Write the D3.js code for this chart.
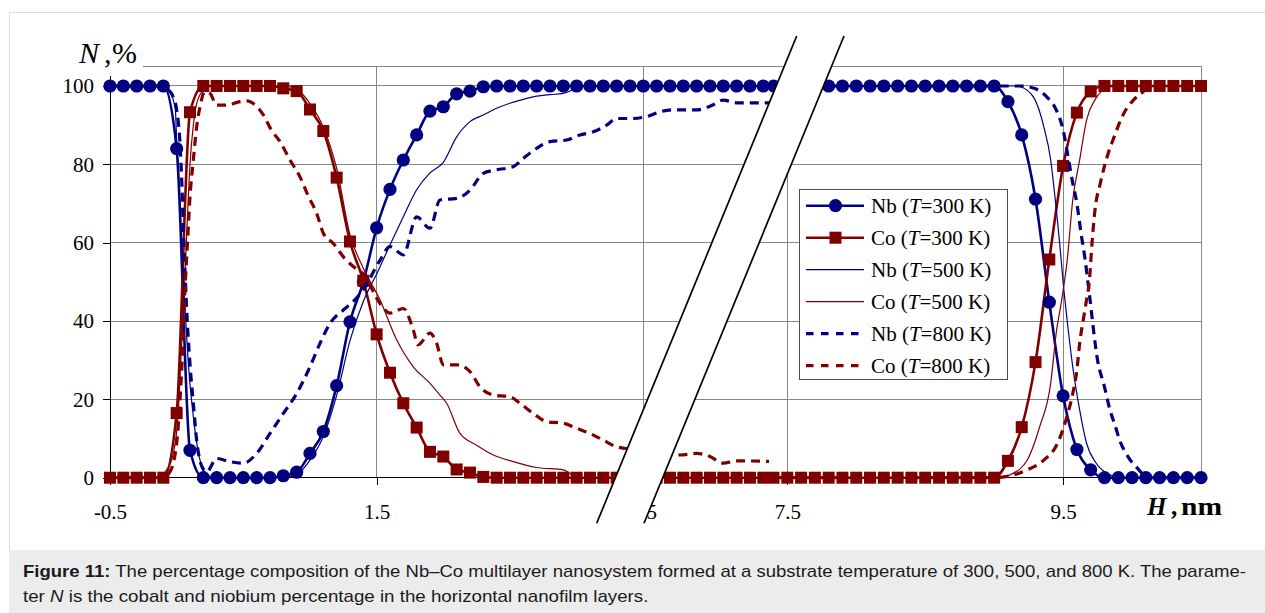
<!DOCTYPE html>
<html><head><meta charset="utf-8">
<script src="https://cdn.jsdelivr.net/npm/d3@7"></script>
<style>body{margin:0;background:#fff}svg{display:block}</style>
</head><body>
<svg id="c" width="1265" height="613"></svg>
<script>
// ---------------- DATA ----------------
const yTicks = [0, 20, 40, 60, 80, 100];
const xTicksLeft = [-0.5, 1.5, 3.5];
const xTicksRight = [7.5, 9.5];

// T = 300 K (markers every 0.1 nm)
const H300L = [-0.5,-0.4,-0.3,-0.2,-0.1,0,0.1,0.2,0.3,0.4,0.5,0.6,0.7,0.8,0.9,1,1.1,1.2,1.3,1.4,1.5,1.6,1.7,1.8,1.9,2,2.1,2.2,2.3,2.4,2.5,2.6,2.7,2.8,2.9,3,3.1,3.2,3.3,3.4,3.5,3.6,3.7,3.8,3.9,4,4.1,4.2,4.3,4.4];
const Nb300L = [100,100,100,100,100,84,7,0,0,0,0,0,0,0.5,1.4,6.2,11.8,23.5,39.8,50,63.8,73.6,81.1,87.5,93.6,94.7,98,98.7,99.8,100,100,100,100,100,100,100,100,100,100,100,100,100,100,100,100,100,100,100,100,100];
const Co300L = [0,0,0,0,0,16.5,93.3,100,100,100,100,100,100,99.4,98.7,94,88.5,76.6,60.3,50.3,36.6,26.8,19,12.8,6.6,5.4,2.1,1.3,0.2,0,0,0,0,0,0,0,0,0,0,0,0,0,0,0,0,0,0,0,0,0];
const H300R = [7.4,7.5,7.6,7.7,7.8,7.9,8,8.1,8.2,8.3,8.4,8.5,8.6,8.7,8.8,8.9,9,9.1,9.2,9.3,9.4,9.5,9.6,9.7,9.8,9.9,10,10.1,10.2,10.3,10.4,10.5];
const Nb300R = [100,100,100,100,100,100,100,100,100,100,100,100,100,100,100,100,100,96,87.5,71.1,44.8,20.9,7.2,2,0,0,0,0,0,0,0,0];
const Co300R = [0,0,0,0,0,0,0,0,0,0,0,0,0,0,0,0,0,4.3,12.9,29.5,55.7,79.6,93.2,98.6,100,100,100,100,100,100,100,100];

// T = 500 K
const HNb500L = [-0.5,-0.1,-0.05,-0.01,0,0.02,0.04,0.06,0.09,0.125,0.16,0.2,0.25,0.3,0.8,0.9,1,1.1,1.2,1.3,1.4,1.5,1.6,1.7,1.8,1.9,2,2.1,2.2,2.3,2.4,2.5,2.6,2.7,2.8,2.9,3,3.1,4.5];
const Nb500L = [100,100,98.5,94,86,73,57,45,28,15.6,7,2,0.3,0,0,0.8,4.5,10.5,21,35,45,52,59.4,66.6,73.5,77.8,80.5,87,90.9,92.6,94.3,95.6,96.6,97.4,97.8,98.1,99.4,100,100];
const HCo500L = [-0.5,-0.15,-0.075,-0.025,0.01,0.035,0.055,0.075,0.1,0.125,0.15,0.2,0.25,0.8,0.9,1,1.1,1.2,1.3,1.4,1.525,1.65,1.775,1.9,1.975,2.025,2.125,2.25,2.375,2.525,2.7,2.9,2.95,3,4.5];
const Co500L = [0,0,2,6.2,15.6,32.6,45.4,62,80,90,95.5,99,100,100,99.2,95.5,89.5,79,62,53.5,45.4,35.2,28.3,24.1,21.1,19,11.3,8.3,5.8,4.1,2.6,2,1.1,0,0];
const HNb500R = [7.3,9.15,9.19,9.29,9.36,9.41,9.44,9.48,9.5,9.53,9.57,9.62,9.67,9.74,9.84,9.9,10.5];
const Nb500R = [100,100,99.8,96.9,89.6,81.1,72,58,50,40,28.3,17.3,8.8,3.7,0.7,0,0];
const HCo500R = [7.3,9.05,9.12,9.24,9.33,9.41,9.45,9.49,9.53,9.57,9.62,9.67,9.73,9.84,9.9,10.5];
const Co500R = [0,0,0.8,4.5,13,24.1,36.9,45.4,55.6,70.9,81.1,91.3,96.4,99.8,100,100];

// T = 800 K
const HNb800L = [-0.5,-0.1,-0.075,-0.03,0,0.025,0.04,0.05,0.0625,0.075,0.1,0.125,0.15,0.19,0.225,0.3,0.4,0.5,0.6,0.7,0.8,0.9,1,1.075,1.15,1.25,1.325,1.4,1.525,1.6,1.7,1.8,1.9,1.975,2.1,2.2,2.3,2.4,2.525,2.6,2.7,2.8,2.925,3.025,3.125,3.225,3.3,3.425,3.525,3.625,3.725,3.9,4.025,4.1,4.2,4.5];
const Nb800L = [100,100,99.4,97.5,93.9,85.4,74,64,53,43,29,19,9.6,2.8,1.5,4.9,4.1,3.7,6.2,11.3,16.4,21.5,28.3,34.3,39.4,42.8,45,48,55.5,59,56.9,66.6,63.7,70.9,71.3,73.4,77.7,78.6,79.4,81.5,84.1,85.8,86.2,87.5,88.3,90,91.7,91.7,92.2,93.4,93.9,93.9,95.2,96.4,95.7,95.7];
const HCo800L = [-0.5,-0.1,-0.05,0,0.025,0.045,0.06,0.085,0.1,0.125,0.15,0.175,0.21,0.25,0.3,0.375,0.475,0.525,0.59,0.65,0.71,0.775,0.85,0.925,0.99,1.05,1.1,1.175,1.26,1.325,1.4,1.525,1.6,1.7,1.775,1.81,1.9,1.95,2,2.1,2.2,2.275,2.375,2.5,2.575,2.675,2.775,2.9,3,3.1,3.2,3.3,3.5,3.775,3.9,4,4.1,4.2,4.5];
const Co800L = [0,0,1.5,8.8,19.8,32.6,46,62.4,71.7,81.1,89.6,94.7,98.5,98.1,95.1,95.1,96,96.2,95.1,92.6,88.8,85.8,81.1,76.8,71.7,67.5,62.4,59.8,56,53.9,52,44.5,42,43.2,37.7,33.9,36.9,34.3,28.8,28.8,27.1,23.2,21.1,20.7,19,16.4,14.3,13.9,12.6,11.3,9.6,7.9,7,5.8,6.2,5.4,3.7,4.3,4.1];
const HNb800R = [7.3,9.2,9.29,9.38,9.45,9.5,9.54,9.57,9.6,9.63,9.66,9.69,9.75,9.8,9.84,9.88,9.91,9.97,10.04,10.1,10.15,10.5];
const Nb800R = [100,100,99.4,97.3,93.9,88.8,81.1,75.2,70,62.4,55.6,47,30,23.2,17.3,13,9.6,5.4,2.4,0.3,0,0];
const HCo800R = [7.3,9,9.14,9.24,9.36,9.46,9.52,9.57,9.6,9.62,9.65,9.67,9.69,9.71,9.73,9.77,9.82,9.87,9.94,10.01,10.08,10.13,10.5];
const Co800R = [0,0,0.7,2,4.5,8.8,14.7,21.5,27.5,34.3,41.1,45.4,50,60,68,75.2,82,87,93,96.4,98.5,100,100];

const legendEntries = [
  {el:"Nb", t:"300", color:"#000080", kind:"circle"},
  {el:"Co", t:"300", color:"#800000", kind:"square"},
  {el:"Nb", t:"500", color:"#000080", kind:"thin"},
  {el:"Co", t:"500", color:"#800000", kind:"thin"},
  {el:"Nb", t:"800", color:"#000080", kind:"dash"},
  {el:"Co", t:"800", color:"#800000", kind:"dash"}
];

// ---------------- LAYOUT ----------------
const NB = "#000080", CO = "#800000", GRID = "#878787";
const serif = "'Liberation Serif','Times New Roman',serif";
const svg = d3.select("#c");

svg.append("rect").attr("x",9.5).attr("y",12.5).attr("width",1270).attr("height",538)
  .attr("fill","#fff").attr("stroke","#dddddd");
svg.append("rect").attr("x",9).attr("y",550).attr("width",1256).attr("height",63).attr("fill","#ececec");

const y = d3.scaleLinear().domain([0,105]).range([477.7, 66.4]);
const xL = d3.scaleLinear().domain([-0.5,3.5]).range([110,643.3]);
const xR = d3.scaleLinear().domain([7.5,10.5]).range([787.3,1201]);
const cut = 769, pL = 110, pR = xR(10.5), pT = y(105), pB = y(0);

// grid
const grid = svg.append("g").attr("stroke",GRID).attr("stroke-width",1).attr("shape-rendering","crispEdges");
[20,40,60,80,100,105].forEach(v => grid.append("line").attr("x1",pL).attr("x2",pR).attr("y1",y(v)).attr("y2",y(v)));
[xL(1.5), xL(3.5), xR(7.5), xR(9.5), xR(10.5)].forEach(px => grid.append("line").attr("x1",px).attr("x2",px).attr("y1",pT).attr("y2",pB));

// axes
const ya = svg.append("g").attr("transform",`translate(${pL},0)`)
  .call(d3.axisLeft(y).tickValues(yTicks).tickSize(7).tickPadding(9).tickFormat(d => String(d)));
const xaL = svg.append("g").attr("transform",`translate(0,${pB})`)
  .call(d3.axisBottom(xL).tickValues(xTicksLeft).tickSize(7).tickPadding(19).tickFormat(d => String(d)));
const xaR = svg.append("g").attr("transform",`translate(0,${pB})`)
  .call(d3.axisBottom(xR).tickValues(xTicksRight).tickSize(7).tickPadding(19).tickFormat(d => String(d)));
[ya,xaL,xaR].forEach(g => {
  g.select(".domain").remove();
  g.selectAll("line").attr("stroke","#000").attr("shape-rendering","crispEdges");
  g.selectAll("text").attr("font-family",serif).attr("font-size",21).attr("fill","#000");
});
svg.append("line").attr("x1",pL).attr("x2",pL).attr("y1",pT).attr("y2",pB).attr("stroke","#000").attr("shape-rendering","crispEdges");
svg.append("line").attr("x1",pL).attr("x2",pR).attr("y1",pB).attr("y2",pB).attr("stroke","#000").attr("shape-rendering","crispEdges");

// clips
const defs = svg.append("defs");
defs.append("clipPath").attr("id","clipL").append("rect").attr("x",0).attr("y",0).attr("width",cut).attr("height",613);
defs.append("clipPath").attr("id","clipR").append("rect").attr("x",cut).attr("y",0).attr("width",1265-cut).attr("height",613);
const gL = svg.append("g").attr("clip-path","url(#clipL)");
const gR = svg.append("g").attr("clip-path","url(#clipR)");

function drawLine(g, xs, hs, vs, color, width, dash) {
  const line = d3.line().x(d => xs(d[0])).y(d => y(d[1])).curve(d3.curveMonotoneX);
  const p = g.append("path").datum(d3.zip(hs, vs)).attr("d", line)
    .attr("fill","none").attr("stroke",color).attr("stroke-width",width).attr("stroke-linejoin","round");
  if (dash) p.attr("stroke-dasharray", dash);
}
function drawMarkers(g, xs, hs, vs, color, kind) {
  const pts = d3.zip(hs, vs);
  if (kind === "circle") {
    g.append("g").selectAll("circle").data(pts).join("circle")
      .attr("cx", d => xs(d[0])).attr("cy", d => y(d[1])).attr("r",6.6).attr("fill",color);
  } else {
    g.append("g").selectAll("rect").data(pts).join("rect")
      .attr("x", d => xs(d[0]) - 6).attr("y", d => y(d[1]) - 6).attr("width",12).attr("height",12).attr("fill",color);
  }
}

[[gL,xL,"L"],[gR,xR,"R"]].forEach(([g,xs,s]) => {
  const D = s === "L"
    ? {nb5:[HNb500L,Nb500L], co5:[HCo500L,Co500L], nb8:[HNb800L,Nb800L], co8:[HCo800L,Co800L], h3:H300L, nb3:Nb300L, co3:Co300L}
    : {nb5:[HNb500R,Nb500R], co5:[HCo500R,Co500R], nb8:[HNb800R,Nb800R], co8:[HCo800R,Co800R], h3:H300R, nb3:Nb300R, co3:Co300R};
  drawLine(g, xs, D.h3, D.nb3, NB, 2.6);
  drawLine(g, xs, D.h3, D.co3, CO, 2.6);
  drawMarkers(g, xs, D.h3, D.nb3, NB, "circle");
  drawMarkers(g, xs, D.h3, D.co3, CO, "square");
  drawLine(g, xs, D.nb5[0], D.nb5[1], NB, 1.2);
  drawLine(g, xs, D.co5[0], D.co5[1], CO, 1.2);
  drawLine(g, xs, D.nb8[0], D.nb8[1], NB, 3.2, "9,6");
  drawLine(g, xs, D.co8[0], D.co8[1], CO, 3.2, "9,6");
});

// break strip
const b1 = [[596.7,523.3],[796.7,36]], b2 = [[644,523.3],[844,36]];
svg.append("polygon").attr("points",[b1[0],b1[1],b2[1],b2[0]].map(p=>p.join(",")).join(" ")).attr("fill","#fff");
[b1,b2].forEach(b => svg.append("line").attr("x1",b[0][0]).attr("y1",b[0][1]).attr("x2",b[1][0]).attr("y2",b[1][1])
  .attr("stroke","#000").attr("stroke-width",1.7));

// y title
svg.append("rect").attr("x",74).attr("y",34).attr("width",69).attr("height",42).attr("fill","#fff");
const yt = svg.append("text").attr("font-family",serif).attr("font-size",30).attr("y",63);
yt.append("tspan").attr("x",79).attr("font-style","italic").text("N");
yt.append("tspan").attr("x",104).text(",");
yt.append("tspan").attr("x",112).text("%");

// x title
const xt = svg.append("text").attr("font-family",serif).attr("font-size",25).attr("font-weight","bold").attr("y",515);
xt.append("tspan").attr("x",1147).attr("font-style","italic").text("H");
xt.append("tspan").attr("x",1171).text(",");
svg.append("text").attr("font-family",serif).attr("font-size",25).attr("font-weight","bold").attr("y",515)
  .attr("x",1181).attr("textLength",41).attr("lengthAdjust","spacingAndGlyphs").text("nm");

// legend
const lg = svg.append("g");
lg.append("rect").attr("x",799.5).attr("y",189.5).attr("width",208).attr("height",190)
  .attr("fill","#fff").attr("stroke","#4d4d4d");
legendEntries.forEach((e,i) => {
  const cy = 205.7 + 32*i;
  const ln = lg.append("line").attr("x1",806).attr("x2",864).attr("y1",cy).attr("y2",cy).attr("stroke",e.color);
  if (e.kind === "circle" || e.kind === "square") ln.attr("stroke-width",2.6);
  if (e.kind === "thin") ln.attr("stroke-width",1.2);
  if (e.kind === "dash") ln.attr("stroke-width",3.2).attr("stroke-dasharray","7.5,7.5");
  if (e.kind === "circle") lg.append("circle").attr("cx",835.5).attr("cy",cy).attr("r",6.6).attr("fill",e.color);
  if (e.kind === "square") lg.append("rect").attr("x",829.5).attr("y",cy-6).attr("width",12).attr("height",12).attr("fill",e.color);
  const t = lg.append("text").attr("x",871).attr("y",cy+7.5).attr("font-family",serif).attr("font-size",21);
  t.append("tspan").text(e.el + " (");
  t.append("tspan").attr("font-style","italic").text("T");
  t.append("tspan").text("=" + e.t + " K)");
});

// caption
const sans = "'Liberation Sans',Arial,Helvetica,sans-serif";
function capLine(baseline, target, parts) {
  const g = svg.append("g").attr("transform",`translate(23,${baseline})`);
  const t = g.append("text").attr("font-family",sans).attr("font-size",16).attr("fill","#1a1a1a").attr("x",0).attr("y",0);
  parts.forEach(p => {
    const ts = t.append("tspan").text(p[0]);
    if (p[1] === "b") ts.attr("font-weight","bold");
    if (p[1] === "i") ts.attr("font-style","italic");
  });
  const w = t.node().getComputedTextLength();
  t.attr("transform",`scale(${target/w},1)`);
}
capLine(577, 1224, [["Figure 11:","b"],[" The percentage composition of the Nb\u2013Co multilayer nanosystem formed at a substrate temperature of 300, 500, and 800 K. The parame-",""]]);
capLine(602, 626, [["ter ",""],["N","i"],[" is the cobalt and niobium percentage in the horizontal nanofilm layers.",""]]);
</script>
</body></html>
